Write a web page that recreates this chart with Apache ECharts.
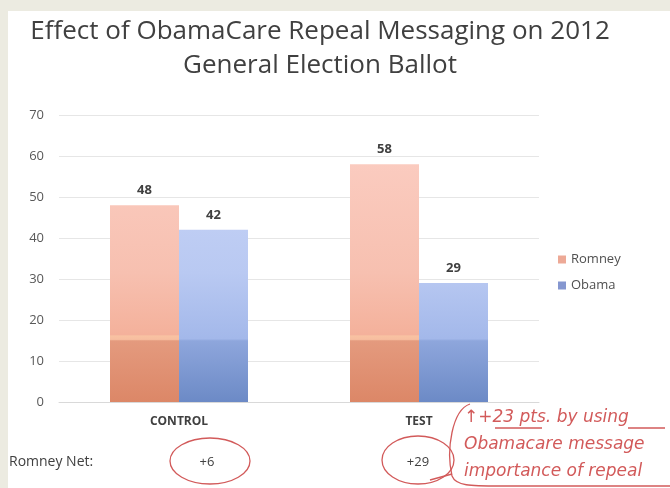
<!DOCTYPE html>
<html><head><meta charset="utf-8">
<script src="https://cdn.jsdelivr.net/npm/echarts@6/dist/echarts.min.js"></script>
<style>html,body{margin:0;padding:0;background:#ecebe1;}#c{width:670px;height:488px;}</style>
</head><body><div id="c"></div>
<script>
const titleLines = ['Effect of ObamaCare Repeal Messaging on 2012', 'General Election Ballot'];
const categories = ['CONTROL', 'TEST'];
const romney = [48, 58];
const obama = [42, 29];
const yTicks = [0, 10, 20, 30, 40, 50, 60, 70];
const netLabel = 'Romney Net:';
const netValues = ['+6', '+29'];
const noteLines = ['\u2191+23 pts. by using', 'Obamacare message', 'importance of repeal'];

const chart = echarts.init(document.getElementById('c'), null, {renderer: 'canvas'});
const FONT = '"Open Sans", "Liberation Sans", sans-serif';
const RED = '#d25a5a';
const penStyle = {fill: 'none', stroke: RED, lineWidth: 1.3};

function grad(t, b, stops) {
  return {type: 'linear', x: 0, y: t, x2: 0, y2: b, colorStops: stops, global: true};
}
const rStops = [
  {offset: 0, color: '#fcd0c6'}, {offset: 0.55, color: '#f7c0b0'},
  {offset: 0.765, color: '#f4b19b'}, {offset: 0.77, color: '#f9c2a2'},
  {offset: 0.782, color: '#f7bea0'}, {offset: 0.787, color: '#e49a7e'},
  {offset: 1, color: '#dc8767'}];
const oStops = [
  {offset: 0, color: '#ccd7f8'}, {offset: 0.55, color: '#b9c9f2'},
  {offset: 0.78, color: '#a3b8ea'}, {offset: 0.787, color: '#8ea6dc'},
  {offset: 1, color: '#6c8ac6'}];

const labelStyle = {show: true, position: 'top', distance: 8, color: '#404040', fontWeight: 'bold', fontSize: 13, fontFamily: FONT};

chart.setOption({
  backgroundColor: '#ecebe1',
  animation: false,
  graphic: [
    {type: 'rect', shape: {x: 8, y: 11, width: 662, height: 477}, style: {fill: '#ffffff'}, z: -10},
    {type: 'text', x: 320, y: 15, style: {text: titleLines.join('\n'), font: '26px ' + FONT, fill: '#404040', textAlign: 'center', lineHeight: 34}},
    {type: 'text', x: 9, y: 455, style: {text: netLabel, font: '14px ' + FONT, fill: '#404040'}},
    {type: 'text', x: 207, y: 462, style: {text: netValues[0], font: '13px ' + FONT, fill: '#404040', textAlign: 'center', textVerticalAlign: 'middle'}},
    {type: 'text', x: 418, y: 462, style: {text: netValues[1], font: '13px ' + FONT, fill: '#404040', textAlign: 'center', textVerticalAlign: 'middle'}},
    {type: 'ellipse', shape: {cx: 210, cy: 461, rx: 40, ry: 23}, style: penStyle},
    {type: 'ellipse', shape: {cx: 418, cy: 460, rx: 36, ry: 24}, style: penStyle},
    {type: 'bezierCurve', shape: {x1: 470, y1: 404, cpx1: 452, cpy1: 410, cpx2: 446, cpy2: 450, x2: 452, y2: 476}, style: penStyle},
    {type: 'bezierCurve', shape: {x1: 452, y1: 476, cpx1: 456, cpy1: 486, cpx2: 470, cpy2: 486, x2: 500, y2: 486}, style: penStyle},
    {type: 'line', shape: {x1: 500, y1: 486, x2: 670, y2: 486}, style: penStyle},
    {type: 'line', shape: {x1: 430, y1: 480, x2: 452, y2: 474}, style: penStyle},
    {type: 'text', x: 464, y: 404, style: {text: noteLines.join('\n'), font: 'italic 17px "DejaVu Sans", sans-serif', fill: RED, lineHeight: 27}},
    {type: 'line', shape: {x1: 495, y1: 428, x2: 542, y2: 428}, style: penStyle},
    {type: 'line', shape: {x1: 628, y1: 428, x2: 665, y2: 428}, style: penStyle}
  ],
  legend: {
    orient: 'vertical', left: 553, top: 248, itemWidth: 8, itemHeight: 8, itemGap: 13,
    textStyle: {fontSize: 13, color: '#505050', fontFamily: FONT},
    data: [{name: 'Romney', icon: 'rect', itemStyle: {color: '#eda996'}},
           {name: 'Obama', icon: 'rect', itemStyle: {color: '#8597d0'}}]
  },
  grid: {left: 59, right: 131, top: 115, bottom: 86},
  xAxis: {
    type: 'category', data: categories,
    axisLine: {lineStyle: {color: '#d9d9d9'}}, axisTick: {show: false},
    axisLabel: {color: '#404040', fontWeight: 'bold', fontSize: 12, fontFamily: FONT, margin: 14}
  },
  yAxis: {
    type: 'value', min: yTicks[0], max: yTicks[yTicks.length - 1], interval: 10,
    axisLine: {show: false}, axisTick: {show: false},
    splitLine: {lineStyle: {color: '#e6e6e6'}},
    axisLabel: {color: '#595959', fontSize: 13, fontFamily: FONT, margin: 15}
  },
  series: [
    {name: 'Romney', type: 'bar', data: romney, barWidth: 69, barGap: '0%', itemStyle: {color: '#f0a890'}, label: labelStyle},
    {name: 'Obama', type: 'bar', data: obama, barWidth: 69, barGap: '0%', itemStyle: {color: '#90a8e0'}, label: labelStyle}
  ]
});
const pxTop = chart.convertToPixel({yAxisIndex: 0}, yTicks[yTicks.length - 1]);
const pxBottom = chart.convertToPixel({yAxisIndex: 0}, yTicks[0]);
chart.setOption({series: [
  {itemStyle: {color: grad(pxTop, pxBottom, rStops)}},
  {itemStyle: {color: grad(pxTop, pxBottom, oStops)}}
]});
</script></body></html>
